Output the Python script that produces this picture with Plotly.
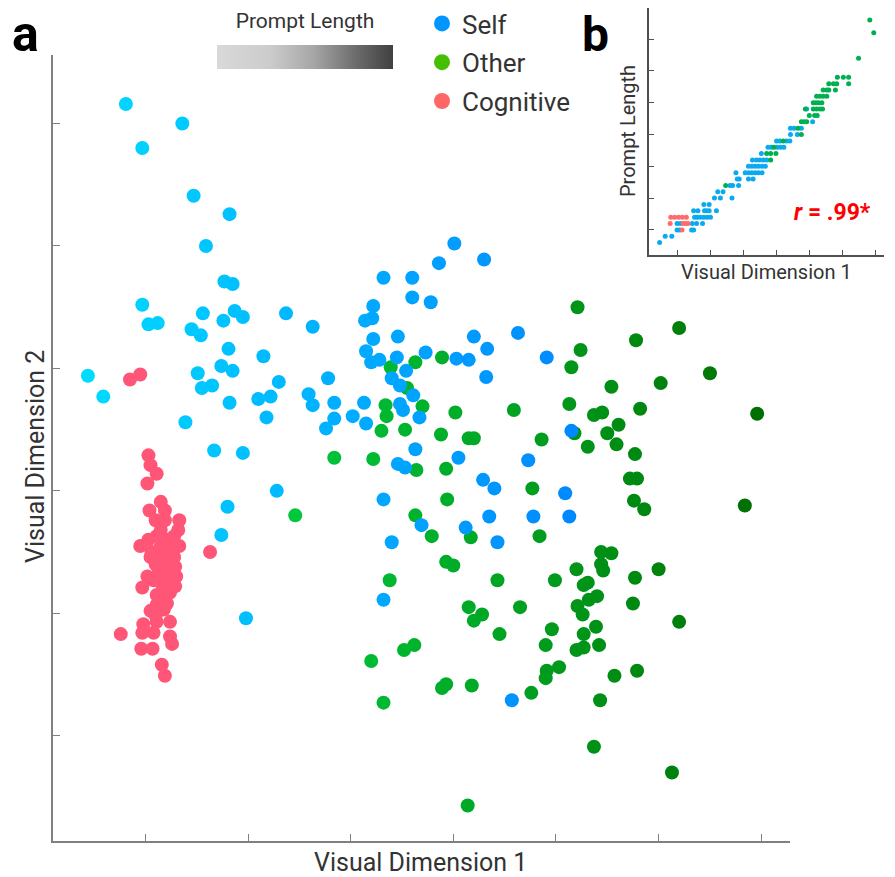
import plotly.graph_objects as go

# ---------------- data (panel a) ----------------
self_x = [0.81,1.36,0.97,1.47,1.82,1.59,1.77,1.85,0.97,1.03,1.12,1.56,1.45,1.54,1.76,1.87,1.95,2.37,2.63,1.81,
          2.15,1.74,1.85,1.51,0.44,2.30,2.78,0.59,1.55,1.65,1.82,2.10,2.22,2.18,1.39,1.67,1.95,2.28,1.80,1.74,1.98,
          2.59,2.63,2.84,3.13,3.02,3.15,2.84,2.76,3.48,3.51,3.67,3.61,3.40,3.48,3.54,3.28,3.20,3.15,3.45,3.22,
          3.46,3.21,3.14,3.22,3.32,3.60,3.60,3.78,3.86,4.01,4.30,3.73,4.03,4.15,4.20,4.33,4.63,4.91,4.32,5.15,
          3.63,4.05,4.73,3.46,3.53,4.29,4.40,5.09,3.32,4.35,4.78,5.13,3.69,4.12,3.40,4.43,3.32,4.57]
self_y = [6.16,6.00,5.80,5.41,5.26,5.00,4.71,4.69,4.52,4.36,4.37,4.45,4.32,4.27,4.39,4.47,4.42,4.45,4.34,4.16,
          4.10,4.02,3.98,3.96,3.94,3.89,3.92,3.77,3.84,3.86,3.72,3.75,3.77,3.60,3.56,3.33,3.31,3.00,2.87,2.64,1.96,
          3.79,3.70,3.72,3.72,3.61,3.55,3.59,3.51,3.71,3.66,3.60,3.78,3.92,3.86,3.98,4.07,4.05,4.14,4.09,4.24,
          4.26,4.41,4.39,4.51,4.74,4.74,4.58,4.54,4.86,5.02,4.89,4.13,4.08,4.07,4.26,4.16,4.29,4.09,3.93,3.49,
          3.34,3.27,3.25,3.22,3.19,3.09,3.02,2.98,2.93,2.79,2.79,2.79,2.72,2.70,2.58,2.58,2.11,1.29]

other_x = [5.21,5.24,5.15,3.89,3.63,3.39,3.55,3.70,3.34,3.35,4.02,4.59,5.13,5.37,5.45,3.30,3.53,3.88,4.15,4.20,
           4.86,5.18,5.31,2.84,3.22,3.64,3.93,4.77,3.94,2.46,3.63,5.78,6.20,5.54,6.02,6.50,5.82,6.96,5.61,5.50,
           5.59,5.77,5.72,5.79,5.76,5.86,6.84,4.84,3.79,4.17,5.44,5.54,3.93,4.00,3.38,4.43,4.99,5.20,5.44,5.46,
           5.77,6.00,4.15,4.28,4.20,4.65,5.31,5.27,5.32,5.40,5.21,5.26,5.75,6.20,4.45,4.96,5.39,5.27,4.90,5.20,
           5.27,5.42,3.62,3.52,3.20,5.03,4.91,4.90,5.57,5.79,3.93,3.89,4.18,4.76,3.32,5.43,5.37,6.13,4.14]
other_y = [4.50,4.15,4.01,4.09,4.05,4.01,3.84,3.69,3.70,3.61,3.64,3.66,3.71,3.62,3.64,3.49,3.50,3.46,3.43,3.43,
           3.42,3.47,3.36,3.27,3.26,3.17,3.18,3.02,2.93,2.80,2.80,4.23,4.33,3.85,3.88,3.96,3.67,3.63,3.54,3.47,
           3.38,3.30,3.10,3.10,2.92,2.85,2.88,2.63,2.63,2.62,2.50,2.49,2.42,2.39,2.27,2.27,2.27,2.36,2.40,2.35,
           2.29,2.36,2.05,1.99,1.94,2.05,2.25,2.23,2.11,2.14,2.06,1.99,2.08,1.93,1.83,1.87,1.89,1.83,1.74,1.70,
           1.72,1.74,1.74,1.70,1.61,1.56,1.53,1.47,1.49,1.53,1.42,1.39,1.41,1.35,1.27,1.29,0.91,0.70,0.43]

cog_x = [0.85,0.95,1.03,1.05,1.11,1.02,1.15,1.04,1.19,1.33,1.32,1.15,0.95,1.03,1.15,1.24,1.33,1.05,1.15,1.28,
         1.18,1.29,1.02,1.15,1.24,0.97,1.29,1.11,1.24,1.05,1.18,1.24,1.11,0.98,0.76,0.97,1.08,1.24,1.26,0.96,
         1.07,1.16,1.19,1.63,1.11,1.21,1.15,1.21,1.28,1.11,1.19,1.10,1.24,1.10,1.06,1.20,1.13,1.22,1.08,1.17,1.30,1.10]
cog_y = [3.91,3.95,3.29,3.21,3.14,3.06,2.91,2.84,2.84,2.76,2.68,2.68,2.55,2.60,2.55,2.55,2.55,2.46,2.46,2.46,
         2.38,2.38,2.30,2.32,2.30,2.21,2.22,2.15,2.17,2.02,2.03,1.93,1.93,1.91,1.83,1.84,1.84,1.81,1.75,1.71,
         1.71,1.58,1.49,2.50,2.07,2.08,2.25,2.60,2.63,2.63,2.76,2.76,2.42,2.40,2.50,2.50,2.35,2.20,2.27,2.12,2.30,1.98]

# ---------------- data (panel b): Visual Dimension 1 vs prompt length (words) ----------------
inset_self_x = [0.46, 0.63,0.83, 0.99,1.07,1.43,1.49, 0.99,1.09,1.45,1.58,1.76,
                1.52,1.60,1.70,1.80,1.90,2.00, 1.49,1.62,1.82,1.88,1.96,2.18, 1.80,1.96,
                2.12,2.30,2.65, 2.22,2.38, 2.59,2.67,2.85, 2.81,2.87,3.15,3.29,
                2.77,3.05,3.15,3.25,3.35,3.45,3.56, 3.15,3.25,3.35,3.45,3.56,3.66,
                3.27,3.39,3.49,3.60,3.70, 3.54, 3.74,3.84,4.02,4.12,4.22, 4.00,4.10,4.30,4.40,
                4.42,4.63, 4.42,4.53,4.75, 5.09, 4.91]
inset_self_len = [3, 4,4, 5,5,5,5, 6,6,6,6,6,
                  7,7,7,7,7,7, 8,8,8,8,8,8, 9,9,
                  10,10,10, 11,11, 12,12,12, 13,13,13,13,
                  14,14,14,14,14,14,14, 15,15,15,15,15,15,
                  16,16,16,16,16, 17, 18,18,18,18,18, 19,19,19,19,
                  20,20, 21,21,21, 22, 24]
inset_other_x = [2.46, 3.82, 3.70,3.82,3.98, 3.92, 4.20, 4.75, 4.65, 4.75,4.83,4.91,
                 4.99,5.15,5.23, 4.87,5.11,5.21,5.31,5.39, 5.11,5.19,5.27,5.37,
                 5.21,5.31,5.41,5.52, 5.41,5.52,5.58,5.78, 5.58,5.72,5.82,6.18,
                 5.84,6.02,6.18, 6.48, 6.94, 6.82]
inset_other_len = [12, 16, 17,17,17, 18, 19, 20, 21, 22,22,22,
                   23,23,23, 24,24,24,24,24, 25,25,25,25,
                   26,26,26,26, 27,27,27,27, 28,28,28,28,
                   29,29,29, 32, 36, 38]
inset_cog_x = [1.14, 0.78,1.17,1.25,1.32, 0.80,0.92,1.04,1.15,1.27]
inset_cog_len = [5, 6,6,6,6, 7,7,7,7,7]

main_ticks = [1, 2, 3, 4, 5, 6, 7]
main_yticks = [1, 2, 3, 4, 5, 6]
inset_yticks = [5, 10, 15, 20, 25, 30, 35]
legend_names = ["Self", "Other", "Cognitive"]
legend_colors = ["#0096FF", "#44C000", "#FF6666"]

W, H = 895, 877
FONT = "Roboto, 'Open Sans', sans-serif"
TXT = "#333333"

fig = go.Figure()

# panel a scatter (color follows prompt length, which tracks dimension 1)
fig.add_trace(go.Scatter(
    x=other_x, y=other_y, mode="markers", showlegend=False, hoverinfo="skip",
    marker=dict(size=14, color=other_x, cmin=2.4, cmax=7.0,
                colorscale=[[0, "#00C83C"], [0.5, "#00A020"], [1, "#006E00"]], line=dict(width=0))))
fig.add_trace(go.Scatter(
    x=self_x, y=self_y, mode="markers", showlegend=False, hoverinfo="skip",
    marker=dict(size=14, color=self_x, cmin=0.4, cmax=5.2,
                colorscale=[[0, "#00DCFF"], [0.5, "#00B0FF"], [1, "#0088FF"]], line=dict(width=0))))
fig.add_trace(go.Scatter(
    x=cog_x, y=cog_y, mode="markers", showlegend=False, hoverinfo="skip",
    marker=dict(size=14, color="#FF5577", line=dict(width=0))))

# legend entries
for i, (n, c) in enumerate(zip(legend_names, legend_colors)):
    fig.add_trace(go.Scatter(x=[None], y=[None], mode="markers", name=n, legendgroup=n,
                             marker=dict(size=16, color=c)))

# prompt length gradient bar
fig.add_trace(go.Scatter(
    x=[None], y=[None], mode="markers", showlegend=False, hoverinfo="skip",
    marker=dict(color=[0], cmin=0, cmax=1, showscale=True,
                colorscale=[[0, "#d9d9d9"], [0.3, "#cccccc"], [0.55, "#a6a6a6"], [0.78, "#6e6e6e"], [1, "#404040"]],
                colorbar=dict(orientation="h", lenmode="pixels", len=176, thickness=24,
                              x=305 / W, xanchor="center", y=1 - 21 / H, yanchor="top",
                              xpad=0, ypad=0, outlinewidth=0, ticks="", showticklabels=False,
                              title=dict(text="Prompt Length", side="top",
                                         font=dict(family=FONT, size=21, color=TXT))))))

# panel b scatter
for xs, ls, c in [(inset_self_x, inset_self_len, "#0AAAF0"),
                  (inset_other_x, inset_other_len, "#00B050"),
                  (inset_cog_x, inset_cog_len, "#FF6B6B")]:
    fig.add_trace(go.Scatter(x=xs, y=ls, mode="markers", showlegend=False, hoverinfo="skip",
                             xaxis="x2", yaxis="y2", marker=dict(size=5, color=c, line=dict(width=0))))

axis_common = dict(showline=True, showgrid=False, zeroline=False, showticklabels=False, ticks="inside")
fig.update_layout(
    width=W, height=H, margin=dict(l=0, r=0, t=0, b=0),
    paper_bgcolor="white", plot_bgcolor="white",
    font=dict(family=FONT, color=TXT),
    xaxis=dict(domain=[53 / W, 790 / W], range=[0.1, 7.28], tickvals=main_ticks,
               linecolor="#808080", linewidth=1.5, tickcolor="#808080", ticklen=7, anchor="y", **axis_common),
    yaxis=dict(domain=[1 - 841 / H, 1 - 55 / H], range=[0.14, 6.56], tickvals=main_yticks,
               linecolor="#808080", linewidth=1.5, tickcolor="#808080", ticklen=7, anchor="x", **axis_common),
    xaxis2=dict(domain=[649 / W, 884 / W], range=[0.14, 7.25], tickvals=main_ticks,
                linecolor="#505050", linewidth=1.5, tickcolor="#505050", ticklen=5, anchor="y2", **axis_common),
    yaxis2=dict(domain=[1 - 255 / H, 1 - 8 / H], range=[1.05, 39.9], tickvals=inset_yticks,
                linecolor="#505050", linewidth=1.5, tickcolor="#505050", ticklen=5, anchor="x2", **axis_common),
    legend=dict(x=422 / W, y=1, xanchor="left", yanchor="top", bgcolor="rgba(0,0,0,0)",
                font=dict(family=FONT, size=26, color=TXT), tracegroupgap=2, traceorder="grouped",
                itemsizing="trace"),
    showlegend=True,
)

ann = [
    dict(text="Visual Dimension 1", x=420 / W, y=1 - 862 / H, font=dict(size=25)),
    dict(text="Visual Dimension 2", x=35 / W, y=1 - 457 / H, textangle=-90, font=dict(size=25)),
    dict(text="Visual Dimension 1", x=766 / W, y=1 - 272 / H, font=dict(size=20)),
    dict(text="Prompt Length", x=628 / W, y=1 - 131 / H, textangle=-90, font=dict(size=20)),
    dict(text="<b><i>r</i> = .99*</b>", x=832 / W, y=1 - 212 / H, font=dict(size=23, color="#FF0000")),
    dict(text="<b>a</b>", x=25 / W, y=1 - 34 / H, font=dict(size=50, color="#000000")),
    dict(text="<b>b</b>", x=595 / W, y=1 - 35 / H, font=dict(size=48, color="#000000")),
]
for a in ann:
    f = dict(family=FONT, color=TXT)
    f.update(a.pop("font"))
    fig.add_annotation(xref="paper", yref="paper", showarrow=False, xanchor="center", yanchor="middle",
                       font=f, **a)

fig.write_html("out.html")
